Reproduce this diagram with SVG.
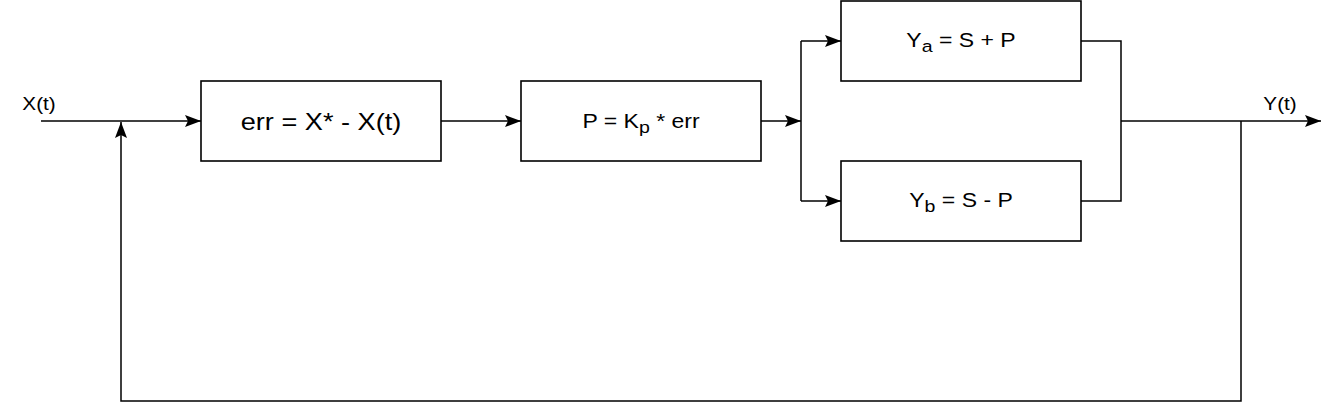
<svg xmlns="http://www.w3.org/2000/svg" width="1338" height="420" viewBox="0 0 1338 420">
  <style>
    .box { fill: #ffffff; stroke: #000000; stroke-width: 1.6; }
    .wire { fill: none; stroke: #000000; stroke-width: 1.5; }
    .lbl { font-family: "Liberation Sans", Arial, Helvetica, sans-serif; fill: #000000; text-anchor: middle; }
  </style>
  <defs>
    <marker id="arrow" markerUnits="userSpaceOnUse" markerWidth="18" markerHeight="14" refX="16" refY="6" orient="auto" overflow="visible">
      <path d="M0,0 L16,6 L0,12 L3,6 Z" fill="#000000"/>
    </marker>
  </defs>
  <rect width="1338" height="420" fill="#ffffff"/>

  <g id="connectors">
    <path class="wire" d="M41,121 L201,121" marker-end="url(#arrow)"/>
    <path class="wire" d="M441,121 L521,121" marker-end="url(#arrow)"/>
    <path class="wire" d="M761,121 L801,121" marker-end="url(#arrow)"/>
    <path class="wire" d="M801,41 L801,201"/>
    <path class="wire" d="M801,41 L841,41" marker-end="url(#arrow)"/>
    <path class="wire" d="M801,201 L841,201" marker-end="url(#arrow)"/>
    <path class="wire" d="M1081,41 L1121,41 L1121,121"/>
    <path class="wire" d="M1081,201 L1121,201 L1121,121"/>
    <path class="wire" d="M1121,121 L1321,121" marker-end="url(#arrow)"/>
    <path class="wire" d="M1241,121 L1241,401 L121,401 L121,122" marker-end="url(#arrow)"/>
  </g>

  <g id="label-x">
    <g transform="translate(39,110) scale(1.15,1)"><text class="lbl" x="0" y="0" font-size="18">X(t)</text></g>
  </g>
  <g id="label-y">
    <g transform="translate(1280,110) scale(1.15,1)"><text class="lbl" x="0" y="0" font-size="18">Y(t)</text></g>
  </g>

  <g id="node-err">
    <rect class="box" x="201" y="81" width="240" height="80"/>
    <g transform="translate(321,130) scale(1.18,1)"><text class="lbl" x="0" y="0" font-size="23">err = X* - X(t)</text></g>
  </g>

  <g id="node-p">
    <rect class="box" x="521" y="81" width="240" height="80"/>
    <g transform="translate(641,128) scale(1.15,1)"><text class="lbl" x="0" y="0" font-size="20">P = K<tspan font-size="17" dy="5">p</tspan><tspan dy="-5"> * err</tspan></text></g>
  </g>

  <g id="node-ya">
    <rect class="box" x="841" y="1" width="240" height="80"/>
    <g transform="translate(961,47) scale(1.15,1)"><text class="lbl" x="0" y="0" font-size="20">Y<tspan font-size="17" dy="5">a</tspan><tspan dy="-5"> = S + P</tspan></text></g>
  </g>

  <g id="node-yb">
    <rect class="box" x="841" y="161" width="240" height="80"/>
    <g transform="translate(961,207) scale(1.15,1)"><text class="lbl" x="0" y="0" font-size="20">Y<tspan font-size="17" dy="5">b</tspan><tspan dy="-5"> = S - P</tspan></text></g>
  </g>
</svg>
